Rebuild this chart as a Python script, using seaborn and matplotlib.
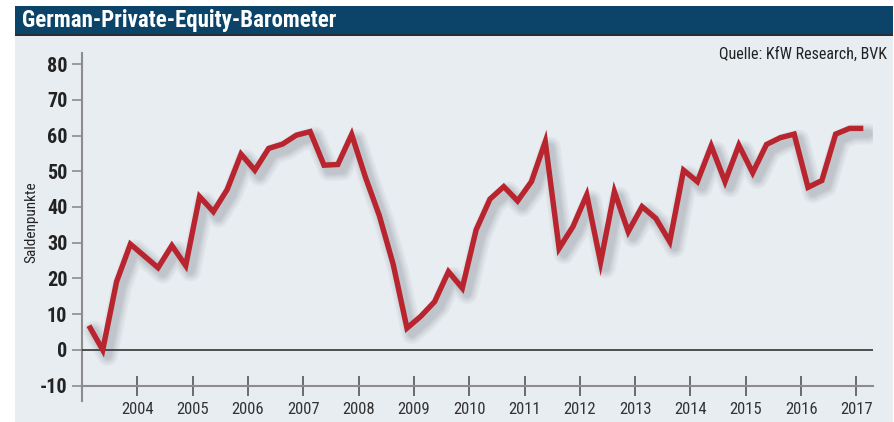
import matplotlib
matplotlib.use("Agg")
import matplotlib.pyplot as plt
import matplotlib.patheffects as pe
from matplotlib.patches import Rectangle
from matplotlib import font_manager as fm
import seaborn as sns
import pandas as pd

# ---- data (quarterly, 2003 Q1 .. 2017 Q1) ----
years = [2003]*4 + [2004]*4 + [2005]*4 + [2006]*4 + [2007]*4 + [2008]*4 + [2009]*4 + \
        [2010]*4 + [2011]*4 + [2012]*4 + [2013]*4 + [2014]*4 + [2015]*4 + [2016]*4 + [2017]
quarters = [1, 2, 3, 4]*14 + [1]
saldo = [6.8, 0.0, 19.1, 29.6,
         26.3, 23.0, 29.2, 23.6,
         42.9, 38.7, 44.9, 54.8,
         50.3, 56.4, 57.6, 60.1,
         61.1, 51.7, 51.9, 60.3,
         48.3, 37.6, 24.0, 6.1,
         9.4, 13.5, 21.9, 17.3,
         33.6, 42.2, 45.7, 41.7,
         47.1, 58.3, 28.4, 34.5,
         43.4, 24.5, 44.3, 33.1,
         40.1, 36.8, 30.3, 50.3,
         47.1, 57.1, 47.1, 57.3,
         49.6, 57.5, 59.4, 60.4,
         45.5, 47.4, 60.4, 62.0,
         62.0]
year_ticks = list(range(2004, 2018))
y_ticks = [-10, 0, 10, 20, 30, 40, 50, 60, 70, 80]

title = "German-Private-Equity-Barometer"
source = "Quelle: KfW Research, BVK"
ylabel = "Saldenpunkte"

df = pd.DataFrame({"year": years, "quarter": quarters, "saldo": saldo})
df["t"] = df["year"] + (df["quarter"] - 0.5) / 4.0

sns.set_theme(style="white")

# pick a condensed font if one is installed
fonts = fm.fontManager.ttflist
names = {f.name for f in fonts}
family, stretch = "Roboto", "normal"
for cand in ("Liberation Sans Narrow", "Roboto Condensed", "Open Sans Condensed",
             "Noto Sans Condensed", "Arial Narrow"):
    if cand in names:
        family, stretch = cand, "normal"
        break
else:
    cond = [f for f in fonts if f.stretch in ("condensed", "semi-condensed", "extra-condensed")
            or "condensed" in str(f.stretch)]
    if cond:
        family, stretch = cond[0].name, cond[0].stretch
    elif "Roboto" not in names:
        family = "DejaVu Sans"
plt.rcParams["font.family"] = [family, "DejaVu Sans"]
plt.rcParams["font.stretch"] = stretch

W, H = 895, 422
fig = plt.figure(figsize=(W / 100, H / 100), dpi=100)
fig.patch.set_facecolor("white")

BG = "#E8EDF2"
BAR = "#0B4468"
fig.patches.append(Rectangle((15 / W, 0), (893 - 15) / W, (H - 35) / H,
                             transform=fig.transFigure, facecolor=BG, edgecolor="none", zorder=-5))
fig.patches.append(Rectangle((15 / W, (H - 34) / H), (893 - 15) / W, 28 / H,
                             transform=fig.transFigure, facecolor=BAR, edgecolor="none", zorder=-5))
fig.patches.append(Rectangle((15 / W, (H - 35.5) / H), (893 - 15) / W, 1.5 / H,
                             transform=fig.transFigure, facecolor="#2b2f33", edgecolor="none", zorder=-5))
fig.text(22 / W, (H - 20) / H, title, color="white", fontsize=16.5, fontweight="bold",
         ha="left", va="center")
fig.text(887 / W, (H - 54) / H, source, color="#222222", fontsize=11.5,
         ha="right", va="center")

ax = fig.add_axes([82 / W, 21 / H, (873 - 82) / W, (401 - 53) / H])
ax.set_facecolor("none")
ax.set_zorder(2)

red = "#B8252F"
sns.lineplot(data=df, x="t", y="saldo", ax=ax, color=red, linewidth=3.9, zorder=5)
line = ax.lines[-1]
line.set_solid_joinstyle("miter")
line.set_solid_capstyle("butt")
shadows = [pe.SimpleLineShadow(offset=(3.5, -4.0), shadow_color="#404850", alpha=0.05,
                               linewidth=w, joinstyle="round", capstyle="round")
           for w in (15, 12, 9.5, 7.5, 5.5)]
line.set_path_effects(shadows + [pe.Normal()])

ax.axhline(0, color="#333333", linewidth=1.2, zorder=3)

ax.set_xlim(2003.0, 2017.3)
ax.set_ylim(-14.3, 83.1)

for s in ("top", "right"):
    ax.spines[s].set_visible(False)
ax.spines["left"].set_color("#8C8C8C")
ax.spines["left"].set_linewidth(1.5)
ax.spines["bottom"].set_position(("data", -10))
ax.spines["bottom"].set_color("#8C8C8C")
ax.spines["bottom"].set_linewidth(1.5)

ax.set_yticks(y_ticks)
ax.set_yticklabels([str(v) for v in y_ticks])
ax.set_xticks(year_ticks)
ax.set_xticklabels([str(y) for y in year_ticks])
ax.tick_params(axis="y", direction="out", length=7.2, width=1.2, color="#8C8C8C",
               pad=3.4, labelsize=14.5, labelcolor="#222222", left=True)
for lab in ax.get_yticklabels():
    lab.set_fontweight("bold")
ax.tick_params(axis="x", direction="inout", length=14, width=1.2, color="#555555",
               pad=4.5, labelsize=12, labelcolor="#333333", bottom=True)

ax.set_xlabel("")
ax.set_ylabel(ylabel, fontsize=11, color="#222222")
ax.yaxis.set_label_coords(-44 / (873 - 82), (401 - 222.5) / (401 - 53))
ax.grid(False)

fig.savefig("out.png", dpi=100, facecolor=fig.get_facecolor())
